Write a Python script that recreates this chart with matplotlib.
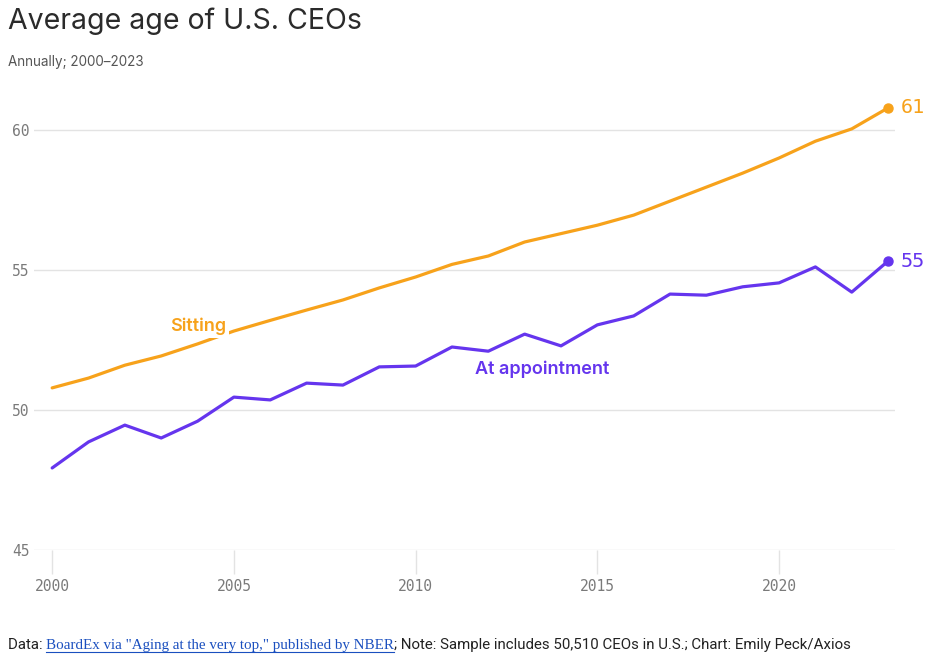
import matplotlib
matplotlib.use("Agg")
import matplotlib.pyplot as plt

# data
years = list(range(2000, 2024))
sitting = [50.79, 51.14, 51.6, 51.93, 52.36, 52.82, 53.2, 53.57, 53.93, 54.36,
           54.75, 55.2, 55.5, 56.0, 56.3, 56.6, 56.96, 57.46, 57.96, 58.46,
           59.0, 59.6, 60.04, 60.79]
appointment = [47.93, 48.86, 49.46, 49.0, 49.6, 50.46, 50.36, 50.96, 50.89, 51.54,
               51.57, 52.25, 52.1, 52.71, 52.29, 53.04, 53.36, 54.14, 54.1, 54.4,
               54.54, 55.11, 54.21, 55.32]
y_ticks = [45, 50, 55, 60]
x_ticks = [2000, 2005, 2010, 2015, 2020]

ORANGE = "#F7A21B"
PURPLE = "#6535EE"
GRID = "#e3e3e3"
TICK_GRAY = "#7a7a7a"

fig = plt.figure(figsize=(9.43, 6.6), dpi=100)
ax = fig.add_axes([34 / 943, 110 / 660, (895 - 34) / 943, (550 - 74) / 660])

ax.plot(years, sitting, color=ORANGE, lw=2.3, solid_capstyle="round", zorder=3)
ax.plot(years, appointment, color=PURPLE, lw=2.3, solid_capstyle="round", zorder=3)
ax.plot(years[-1], sitting[-1], "o", color=ORANGE, ms=6.5, zorder=4)
ax.plot(years[-1], appointment[-1], "o", color=PURPLE, ms=6.5, zorder=4)

# end labels
ax.annotate(f"{sitting[-1]:.0f}", (years[-1], sitting[-1]), xytext=(9, 0),
            textcoords="offset points", va="center", ha="left", color=ORANGE,
            fontsize=14.5, family="DejaVu Sans Mono", annotation_clip=False)
ax.annotate(f"{appointment[-1]:.0f}", (years[-1], appointment[-1]), xytext=(9, 0),
            textcoords="offset points", va="center", ha="left", color=PURPLE,
            fontsize=14.5, family="DejaVu Sans Mono", annotation_clip=False)

# series labels
ax.text(2004.02, 52.98, "Sitting", color=ORANGE, fontsize=13, family="Inter",
        fontweight="semibold", ha="center", va="center", zorder=5,
        bbox=dict(facecolor="white", edgecolor="none", pad=2))
ax.text(2013.48, 51.47, "At appointment", color=PURPLE, fontsize=13, family="Inter",
        fontweight="semibold", ha="center", va="center", zorder=5)

ax.set_xlim(1999.5, 2023.19)
ax.set_ylim(45, 62)
ax.set_yticks(y_ticks)
ax.set_xticks(x_ticks)
for s in ax.spines.values():
    s.set_visible(False)
ax.grid(axis="y", color=GRID, lw=1)
ax.set_axisbelow(True)
ax.tick_params(axis="y", length=0, pad=3, labelcolor=TICK_GRAY, labelsize=10.5)
ax.tick_params(axis="x", length=17, width=1, color=GRID, direction="out", pad=4,
               labelcolor=TICK_GRAY, labelsize=10.5)
for lab in ax.get_xticklabels() + ax.get_yticklabels():
    lab.set_family("DejaVu Sans Mono")

# title and subtitle
fig.text(8 / 943, 1 - 21 / 660, "Average age of U.S. CEOs", fontsize=20.5,
         family="Inter", color="#2b2b2b", va="center", ha="left")
fig.text(8 / 943, 1 - 62 / 660, "Annually; 2000\u20132023", fontsize=9.7,
         family="Inter", color="#555555", va="center", ha="left")

# footer with link styled text
fig.canvas.draw()
renderer = fig.canvas.get_renderer()
parts = [
    ("Data: ", "Roboto", "#222222", False),
    ("BoardEx via \"Aging at the very top,\" published by NBER", "Liberation Serif", "#1a4fbf", True),
    ("; Note: Sample includes 50,510 CEOs in U.S.; Chart: Emily Peck/Axios", "Roboto", "#222222", False),
]
x = 8
y_foot = 660 - 645
for txt, fam, col, link in parts:
    t = fig.text(x / 943, y_foot / 660, txt, fontsize=10.8, family=fam, color=col,
                 va="center", ha="left")
    bb = t.get_window_extent(renderer)
    if link:
        fig.add_artist(plt.Line2D([bb.x0 / 943, bb.x1 / 943],
                                  [(y_foot - 7) / 660, (y_foot - 7) / 660],
                                  color=col, lw=0.8, transform=fig.transFigure))
    x = bb.x1

fig.savefig("out.png", dpi=100, facecolor="white")
